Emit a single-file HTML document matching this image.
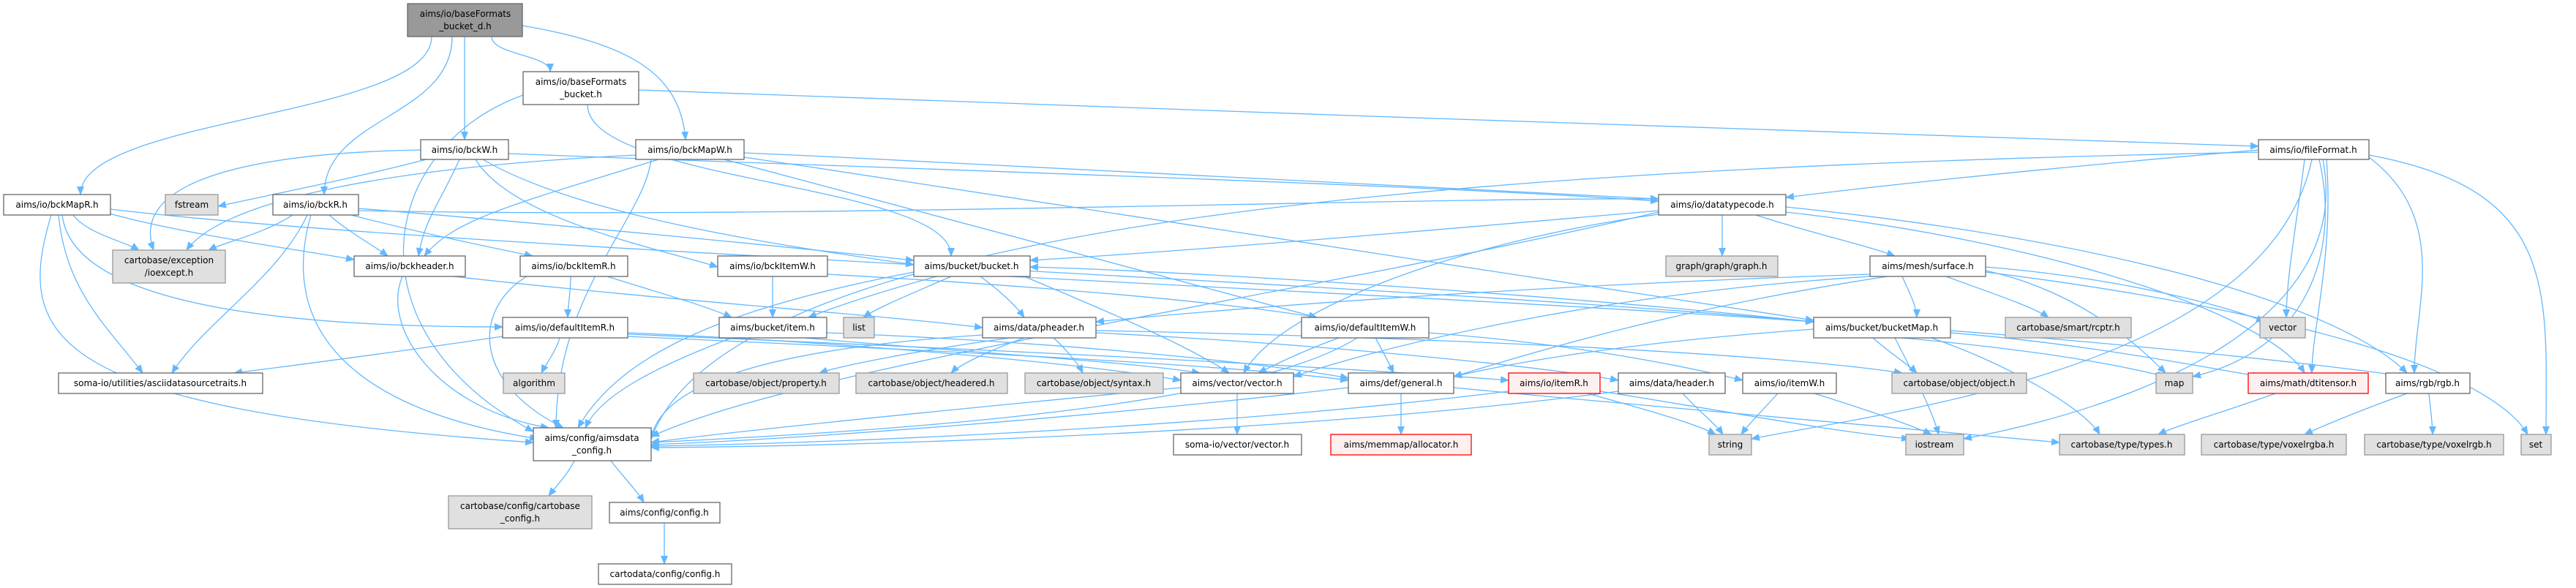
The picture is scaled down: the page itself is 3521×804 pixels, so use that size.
<!DOCTYPE html>
<html><head><meta charset="utf-8"><style>
html,body{margin:0;padding:0;background:#fff;}
svg{display:block;}
text{font-family:"DejaVu Sans","Liberation Sans",sans-serif;font-size:12px;fill:#000;text-anchor:middle;}
.e{fill:none;stroke:#63b8ff;stroke-width:1.3;}
.w{fill:#fff;stroke:#666;stroke-width:1.3;}
.g{fill:#e0e0e0;stroke:#999;stroke-width:1.3;}
.r{fill:#fff0f0;stroke:#ff0000;stroke-width:1.3;}
.t{fill:#999;stroke:#666;stroke-width:1.3;}
</style></head><body>
<svg width="3521" height="804" viewBox="0 0 3521 804" xmlns="http://www.w3.org/2000/svg">
<defs><marker id="a" markerWidth="12" markerHeight="10" refX="11" refY="5" orient="auto" markerUnits="userSpaceOnUse"><path d="M0,0 L12,5 L0,10 z" fill="#63b8ff"/></marker></defs>
<g class="e" marker-end="url(#a)">
<path d="M590,50 C590,160 110,160 110,266"/>
<path d="M618,50 C618,160 443,160 443,266"/>
<path d="M635,50 L635,191"/>
<path d="M672,50 C672,75 752,75 752,98"/>
<path d="M714,35 C860,60 930,100 937,191"/>
<path d="M715,130 C520,200 470,450 729,590"/>
<path d="M803,143 C803,250 1300,250 1300,350"/>
<path d="M873,123 C1500,150 2600,180 3087,200"/>
<path d="M575,205 C300,210 180,260 210,342"/>
<path d="M590,216 C500,240 400,260 298,282"/>
<path d="M628,218 C600,280 580,300 572,350"/>
<path d="M660,218 C800,300 1100,340 1249,362"/>
<path d="M650,218 C700,300 900,340 981,365"/>
<path d="M695,210 C1200,230 1900,250 2267,275"/>
<path d="M100,294 C120,320 170,330 190,342"/>
<path d="M150,292 C250,320 400,340 484,355"/>
<path d="M80,294 C90,400 150,450 195,510"/>
<path d="M85,294 C100,420 400,447 687,447"/>
<path d="M70,294 C20,460 60,560 729,605"/>
<path d="M151,286 C600,340 1800,380 2479,440"/>
<path d="M400,294 C360,320 310,330 285,342"/>
<path d="M450,294 C480,320 510,335 530,350"/>
<path d="M480,294 C580,320 680,340 728,350"/>
<path d="M420,294 C380,380 280,440 235,510"/>
<path d="M425,294 C380,450 480,560 735,600"/>
<path d="M490,285 C800,310 1100,340 1249,356"/>
<path d="M490,288 C1100,300 1900,270 2267,272"/>
<path d="M900,218 C700,280 620,300 580,350"/>
<path d="M869,212 C500,230 300,280 255,342"/>
<path d="M1017,209 C1500,230 2000,260 2267,272"/>
<path d="M1017,215 C1600,300 2200,400 2479,438"/>
<path d="M990,218 C1300,300 1600,380 1800,434"/>
<path d="M890,218 C880,300 760,400 760,585"/>
<path d="M620,378 C900,410 1200,430 1343,448"/>
<path d="M550,378 C520,450 600,560 750,585"/>
<path d="M780,378 C780,400 776,420 776,434"/>
<path d="M830,378 C900,400 970,420 1000,434"/>
<path d="M720,378 C650,420 640,520 770,585"/>
<path d="M1056,378 L1056,434"/>
<path d="M1131,375 C1400,390 1650,410 1800,434"/>
<path d="M1280,378 C1200,400 1140,420 1105,434"/>
<path d="M1300,378 C1250,400 1200,420 1180,434"/>
<path d="M1340,378 C1370,400 1390,420 1400,434"/>
<path d="M1380,378 C1800,400 2200,420 2479,440"/>
<path d="M1249,372 C1000,420 850,480 790,585"/>
<path d="M1400,378 C1500,420 1620,470 1680,510"/>
<path d="M3087,205 C2800,230 2600,250 2441,270"/>
<path d="M3087,208 C2000,230 1000,300 890,600"/>
<path d="M3238,212 C3500,260 3480,400 3480,594"/>
<path d="M3150,218 C3140,300 3125,380 3125,434"/>
<path d="M3170,218 C3200,350 3150,480 2997,515"/>
<path d="M3160,218 C3100,500 2600,560 2394,600"/>
<path d="M3175,218 C3220,450 2900,560 2684,600"/>
<path d="M3180,218 C3190,350 3160,450 3160,510"/>
<path d="M3238,215 C3350,300 3300,420 3300,510"/>
<path d="M2354,294 L2354,350"/>
<path d="M2400,294 C2480,320 2550,335 2590,350"/>
<path d="M2267,288 C1900,320 1600,345 1408,356"/>
<path d="M2267,293 C2000,330 1750,420 1700,510"/>
<path d="M2267,290 C1800,400 1100,500 890,597"/>
<path d="M2441,283 C2900,330 3200,420 3290,510"/>
<path d="M2441,290 C2800,330 3100,430 3150,510"/>
<path d="M2660,378 C2720,400 2780,420 2800,434"/>
<path d="M2714,365 C2900,380 3050,420 3095,440"/>
<path d="M2714,370 C2850,400 2930,480 2960,510"/>
<path d="M2556,375 C2100,390 1700,420 1498,440"/>
<path d="M2556,378 C2200,400 1900,470 1768,515"/>
<path d="M2580,378 C2300,420 2100,480 1987,515"/>
<path d="M2714,372 C3100,420 3400,500 3455,594"/>
<path d="M2600,378 C2610,400 2620,420 2620,434"/>
<path d="M765,462 C760,480 745,500 740,510"/>
<path d="M687,460 C550,480 400,500 320,510"/>
<path d="M858,457 C1400,480 1800,500 2062,520"/>
<path d="M858,460 C1300,480 1700,500 1843,520"/>
<path d="M858,455 C1200,470 1500,500 1614,520"/>
<path d="M1130,455 C1500,470 1750,500 1843,517"/>
<path d="M1100,462 C1300,480 1550,495 1640,510"/>
<path d="M1000,462 C900,500 820,540 800,585"/>
<path d="M1380,462 C1250,480 1150,500 1120,510"/>
<path d="M1400,462 C1350,480 1310,500 1300,510"/>
<path d="M1440,462 C1460,480 1475,500 1480,510"/>
<path d="M1498,455 C1800,470 2100,500 2212,520"/>
<path d="M1498,452 C1900,460 2400,480 2600,510"/>
<path d="M1343,458 C1000,480 900,540 890,600"/>
<path d="M1953,455 C2150,470 2300,500 2382,520"/>
<path d="M1880,462 C1890,480 1900,500 1905,510"/>
<path d="M1830,462 C1780,480 1740,500 1720,510"/>
<path d="M1855,462 C1700,560 1200,590 890,605"/>
<path d="M2479,440 C2100,400 1600,370 1408,365"/>
<path d="M2600,462 C2800,480 2900,500 2960,515"/>
<path d="M2590,462 C2620,520 2640,560 2650,594"/>
<path d="M2479,450 C2200,470 2050,500 1987,515"/>
<path d="M2666,455 C2850,470 3000,500 3090,515"/>
<path d="M2666,452 C2900,470 3150,495 3290,515"/>
<path d="M2560,462 C2580,480 2610,500 2620,510"/>
<path d="M2640,462 C2750,500 2850,560 2870,594"/>
<path d="M1691,538 L1691,594"/>
<path d="M1614,530 C1300,560 1000,590 890,605"/>
<path d="M1915,538 L1915,594"/>
<path d="M1843,530 C1500,570 1100,600 890,608"/>
<path d="M1987,530 C2300,560 2650,590 2815,605"/>
<path d="M2170,538 C2250,560 2320,580 2345,594"/>
<path d="M2187,535 C2350,560 2500,590 2610,600"/>
<path d="M2062,535 C1700,580 1200,605 890,610"/>
<path d="M2300,538 C2320,560 2345,580 2355,594"/>
<path d="M2212,535 C1800,590 1200,610 890,612"/>
<path d="M2430,538 C2410,560 2390,580 2380,594"/>
<path d="M2480,538 C2550,560 2610,580 2640,594"/>
<path d="M3110,538 C3050,560 2980,580 2950,594"/>
<path d="M3290,538 C3230,560 3180,580 3150,594"/>
<path d="M3320,538 C3322,560 3325,580 3325,594"/>
<path d="M785,630 C775,650 760,665 750,678"/>
<path d="M835,630 C850,650 870,670 880,687"/>
<path d="M908,715 L908,771"/>
</g>
<g>
<rect class="t" x="557" y="5" width="157" height="45"/><text x="636" y="23">aims/io/baseFormats</text><text x="636" y="40">_bucket_d.h</text>
<rect class="w" x="715" y="98" width="158" height="45"/><text x="794" y="116">aims/io/baseFormats</text><text x="794" y="133">_bucket.h</text>
<rect class="w" x="575" y="191" width="120" height="27"/><text x="635" y="209">aims/io/bckW.h</text>
<rect class="w" x="869" y="191" width="148" height="27"/><text x="943" y="209">aims/io/bckMapW.h</text>
<rect class="w" x="3087" y="191" width="151" height="27"/><text x="3162" y="209">aims/io/fileFormat.h</text>
<rect class="w" x="5" y="266" width="146" height="28"/><text x="78" y="284">aims/io/bckMapR.h</text>
<rect class="g" x="226" y="266" width="72" height="28"/><text x="262" y="284">fstream</text>
<rect class="w" x="373" y="266" width="117" height="28"/><text x="431" y="284">aims/io/bckR.h</text>
<rect class="w" x="2267" y="266" width="174" height="28"/><text x="2354" y="284">aims/io/datatypecode.h</text>
<rect class="g" x="154" y="342" width="154" height="45"/><text x="231" y="360">cartobase/exception</text><text x="231" y="377">/ioexcept.h</text>
<rect class="w" x="484" y="350" width="152" height="28"/><text x="560" y="368">aims/io/bckheader.h</text>
<rect class="w" x="711" y="350" width="147" height="28"/><text x="784" y="368">aims/io/bckItemR.h</text>
<rect class="w" x="981" y="350" width="150" height="28"/><text x="1056" y="368">aims/io/bckItemW.h</text>
<rect class="w" x="1249" y="350" width="159" height="28"/><text x="1328" y="368">aims/bucket/bucket.h</text>
<rect class="g" x="2277" y="350" width="153" height="28"/><text x="2353" y="368">graph/graph/graph.h</text>
<rect class="w" x="2556" y="350" width="158" height="28"/><text x="2635" y="368">aims/mesh/surface.h</text>
<rect class="w" x="687" y="434" width="171" height="28"/><text x="772" y="452">aims/io/defaultItemR.h</text>
<rect class="w" x="983" y="434" width="147" height="28"/><text x="1056" y="452">aims/bucket/item.h</text>
<rect class="g" x="1153" y="434" width="42" height="28"/><text x="1174" y="452">list</text>
<rect class="w" x="1343" y="434" width="155" height="28"/><text x="1420" y="452">aims/data/pheader.h</text>
<rect class="w" x="1779" y="434" width="174" height="28"/><text x="1866" y="452">aims/io/defaultItemW.h</text>
<rect class="w" x="2479" y="434" width="187" height="28"/><text x="2572" y="452">aims/bucket/bucketMap.h</text>
<rect class="g" x="2741" y="434" width="172" height="28"/><text x="2827" y="452">cartobase/smart/rcptr.h</text>
<rect class="g" x="3089" y="434" width="62" height="28"/><text x="3120" y="452">vector</text>
<rect class="w" x="80" y="510" width="279" height="28"/><text x="219" y="528">soma-io/utilities/asciidatasourcetraits.h</text>
<rect class="g" x="688" y="510" width="84" height="28"/><text x="730" y="528">algorithm</text>
<rect class="g" x="948" y="510" width="199" height="28"/><text x="1047" y="528">cartobase/object/property.h</text>
<rect class="g" x="1170" y="510" width="207" height="28"/><text x="1273" y="528">cartobase/object/headered.h</text>
<rect class="g" x="1401" y="510" width="189" height="28"/><text x="1495" y="528">cartobase/object/syntax.h</text>
<rect class="w" x="1614" y="510" width="154" height="28"/><text x="1691" y="528">aims/vector/vector.h</text>
<rect class="w" x="1843" y="510" width="144" height="28"/><text x="1915" y="528">aims/def/general.h</text>
<rect class="r" x="2062" y="510" width="125" height="28"/><text x="2124" y="528">aims/io/itemR.h</text>
<rect class="w" x="2212" y="510" width="146" height="28"/><text x="2285" y="528">aims/data/header.h</text>
<rect class="w" x="2382" y="510" width="128" height="28"/><text x="2446" y="528">aims/io/itemW.h</text>
<rect class="g" x="2586" y="510" width="184" height="28"/><text x="2678" y="528">cartobase/object/object.h</text>
<rect class="g" x="2947" y="510" width="50" height="28"/><text x="2972" y="528">map</text>
<rect class="r" x="3073" y="510" width="164" height="28"/><text x="3155" y="528">aims/math/dtitensor.h</text>
<rect class="w" x="3261" y="510" width="115" height="28"/><text x="3318" y="528">aims/rgb/rgb.h</text>
<rect class="w" x="729" y="585" width="161" height="45"/><text x="809" y="603">aims/config/aimsdata</text><text x="809" y="620">_config.h</text>
<rect class="w" x="1604" y="594" width="175" height="28"/><text x="1691" y="612">soma-io/vector/vector.h</text>
<rect class="r" x="1819" y="594" width="192" height="28"/><text x="1915" y="612">aims/memmap/allocator.h</text>
<rect class="g" x="2336" y="594" width="58" height="28"/><text x="2365" y="612">string</text>
<rect class="g" x="2605" y="594" width="79" height="28"/><text x="2644" y="612">iostream</text>
<rect class="g" x="2815" y="594" width="171" height="28"/><text x="2900" y="612">cartobase/type/types.h</text>
<rect class="g" x="3009" y="594" width="198" height="28"/><text x="3108" y="612">cartobase/type/voxelrgba.h</text>
<rect class="g" x="3232" y="594" width="190" height="28"/><text x="3327" y="612">cartobase/type/voxelrgb.h</text>
<rect class="g" x="3446" y="594" width="41" height="28"/><text x="3466" y="612">set</text>
<rect class="g" x="613" y="678" width="196" height="45"/><text x="711" y="696">cartobase/config/cartobase</text><text x="711" y="713">_config.h</text>
<rect class="w" x="833" y="687" width="151" height="28"/><text x="908" y="705">aims/config/config.h</text>
<rect class="w" x="818" y="771" width="182" height="28"/><text x="909" y="789">cartodata/config/config.h</text>
</g>
</svg>
</body></html>
